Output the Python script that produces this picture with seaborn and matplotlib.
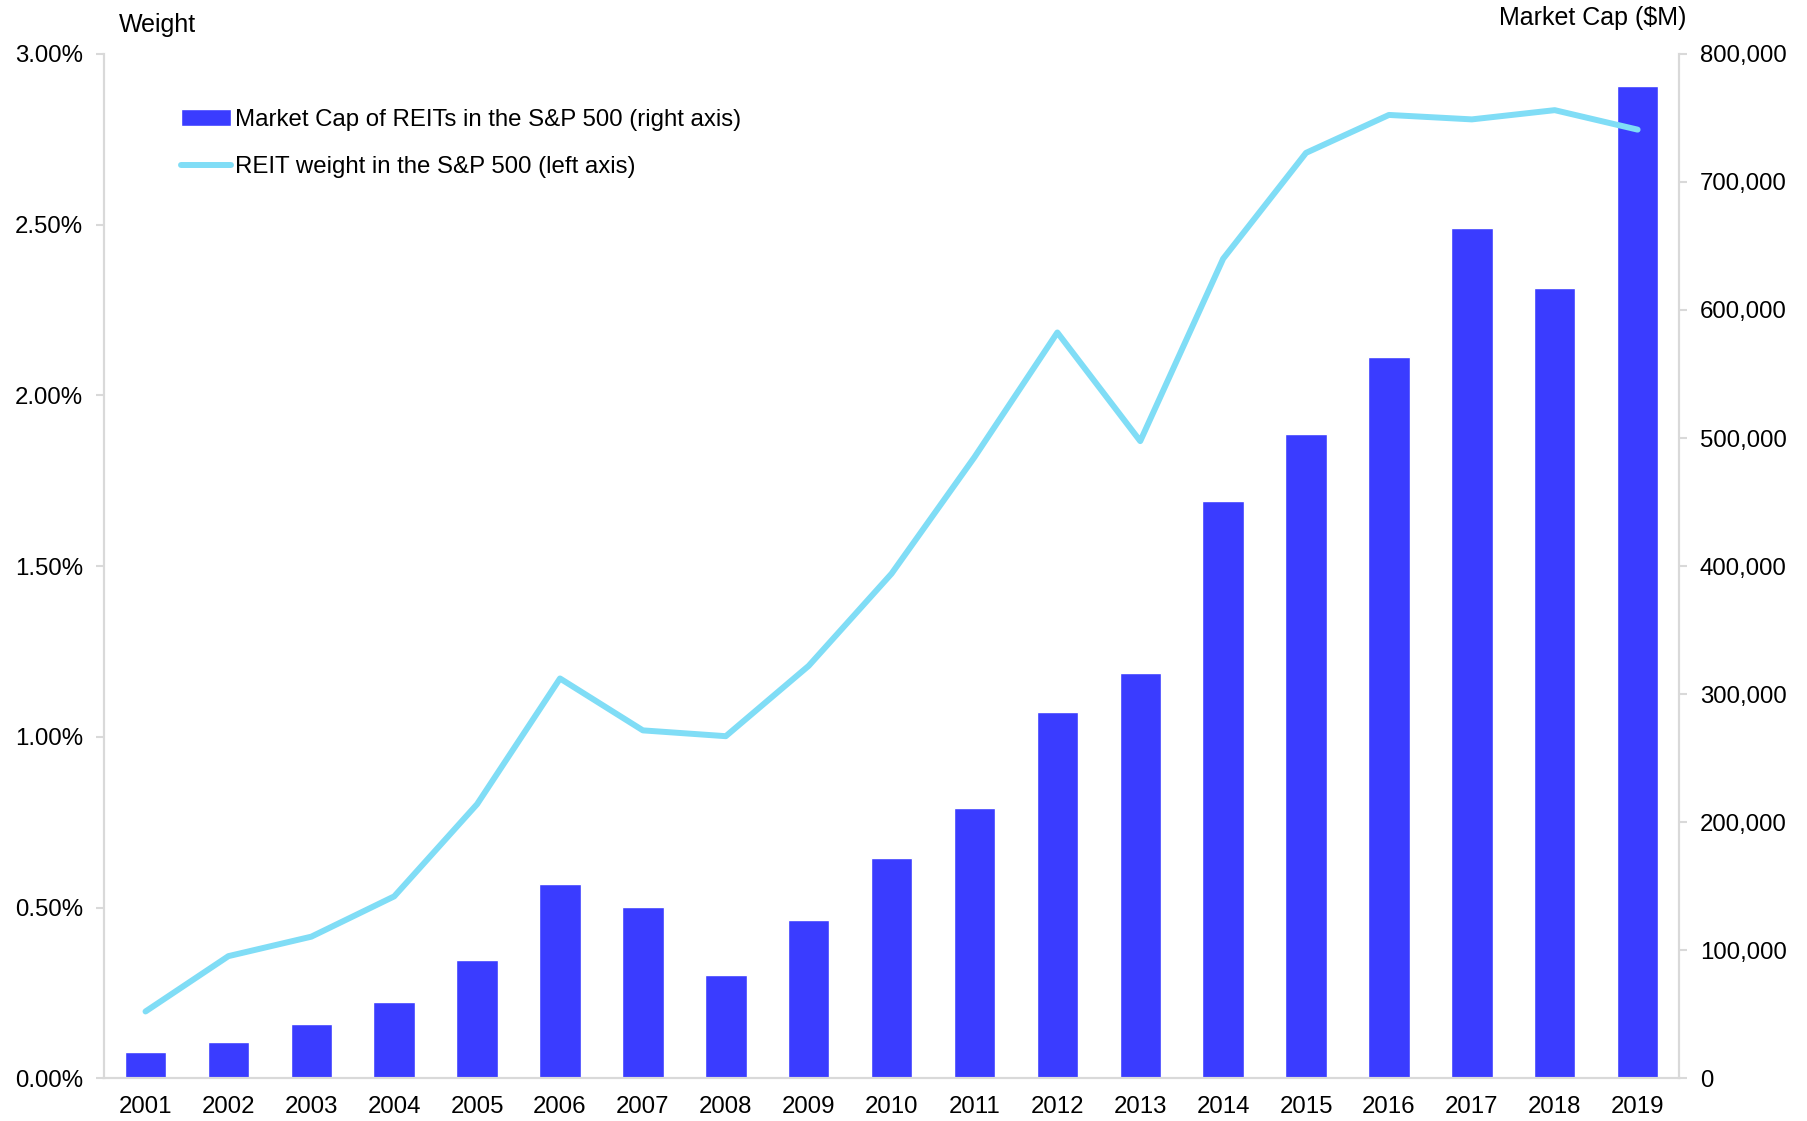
import numpy as np
import pandas as pd
import matplotlib
matplotlib.use("Agg")
import matplotlib.pyplot as plt
import matplotlib.ticker as mticker
import seaborn as sns

years = [str(y) for y in range(2001, 2020)]
market_cap = [20700, 28800, 42300, 59400, 92700, 152100, 134100, 81000, 123300,
              171900, 211500, 286200, 316800, 450900, 503100, 563400, 664200,
              617400, 775000]
reit_weight = [0.196, 0.358, 0.415, 0.533, 0.803, 1.171, 1.019, 1.002, 1.208,
               1.478, 1.819, 2.184, 1.866, 2.400, 2.710, 2.821, 2.808, 2.835,
               2.778]

bar_color = "#3A3CFF"
line_color = "#80DDF6"
grey = "#D9D9D9"

sns.set_style("white")
plt.rcParams['font.family'] = ['Liberation Sans', 'DejaVu Sans']
plt.rcParams['text.color'] = 'black'
plt.rcParams['xtick.labelcolor'] = 'black'
plt.rcParams['ytick.labelcolor'] = 'black'

df = pd.DataFrame({"year": years, "cap": market_cap,
                   "pos": np.arange(len(years)), "weight": reit_weight})

fig = plt.figure(figsize=(18.07, 11.21), dpi=100)
ax = fig.add_axes([0.0576, 0.038, 0.8716, 0.914])

# bars on the base axes (shown on the right), line on the twin (shown on the left)
sns.barplot(data=df, x="year", y="cap", color=bar_color, width=0.5,
            saturation=1, ax=ax, label="Market Cap of REITs in the S&P 500 (right axis)")
ax2 = ax.twinx()
sns.lineplot(data=df, x="pos", y="weight", color=line_color, linewidth=4.3,
             ax=ax2, label="REIT weight in the S&P 500 (left axis)")

ax.yaxis.tick_right()
ax.yaxis.set_label_position("right")
ax2.yaxis.tick_left()
ax2.yaxis.set_label_position("left")

ax.set_xlim(-0.5, len(years) - 0.5)
ax.set_ylim(0, 800000)
ax.set_yticks(np.arange(0, 800001, 100000))
ax.yaxis.set_major_formatter(mticker.FuncFormatter(lambda v, p: f"{int(v):,}"))
ax2.set_ylim(0, 3.0)
ax2.set_yticks(np.arange(0, 3.01, 0.5))
ax2.yaxis.set_major_formatter(mticker.FuncFormatter(lambda v, p: f"{v:.2f}%"))

ax.set_xticks(np.arange(len(years)))
ax.set_xticklabels(years)
ax.set_xticks(np.arange(-0.5, len(years)), minor=True)
ax.tick_params(axis="x", which="major", length=0, labelsize=17.3, pad=13)
ax.tick_params(axis="x", which="minor", length=6, color=grey, width=1.5)
ax.tick_params(axis="y", length=6, color=grey, width=1.5, labelsize=17.3, pad=9)
ax2.tick_params(axis="y", length=6, color=grey, width=1.5, labelsize=17.3, pad=9)

ax.set_xlabel("")
ax.set_ylabel("")
ax2.set_xlabel("")
ax2.set_ylabel("")

for a in (ax, ax2):
    a.spines["top"].set_visible(False)
    for s in ("left", "right", "bottom"):
        a.spines[s].set_color(grey)
        a.spines[s].set_linewidth(1.5)

fig.text(0.066, 0.978, "Weight", fontsize=18, ha="left", va="center")
fig.text(0.9335, 0.984, "Market Cap ($M)", fontsize=18, ha="right", va="center")

h1, l1 = ax.get_legend_handles_labels()
h2, l2 = ax2.get_legend_handles_labels()
if ax2.get_legend() is not None:
    ax2.get_legend().remove()
if ax.get_legend() is not None:
    ax.get_legend().remove()
ax2.legend(h1 + h2, l1 + l2, loc="upper left", bbox_to_anchor=(0.035, 0.967),
           frameon=False, fontsize=17.3, handlelength=2.1, handletextpad=0.15,
           labelspacing=1.05)

fig.savefig("out.png", dpi=100)
